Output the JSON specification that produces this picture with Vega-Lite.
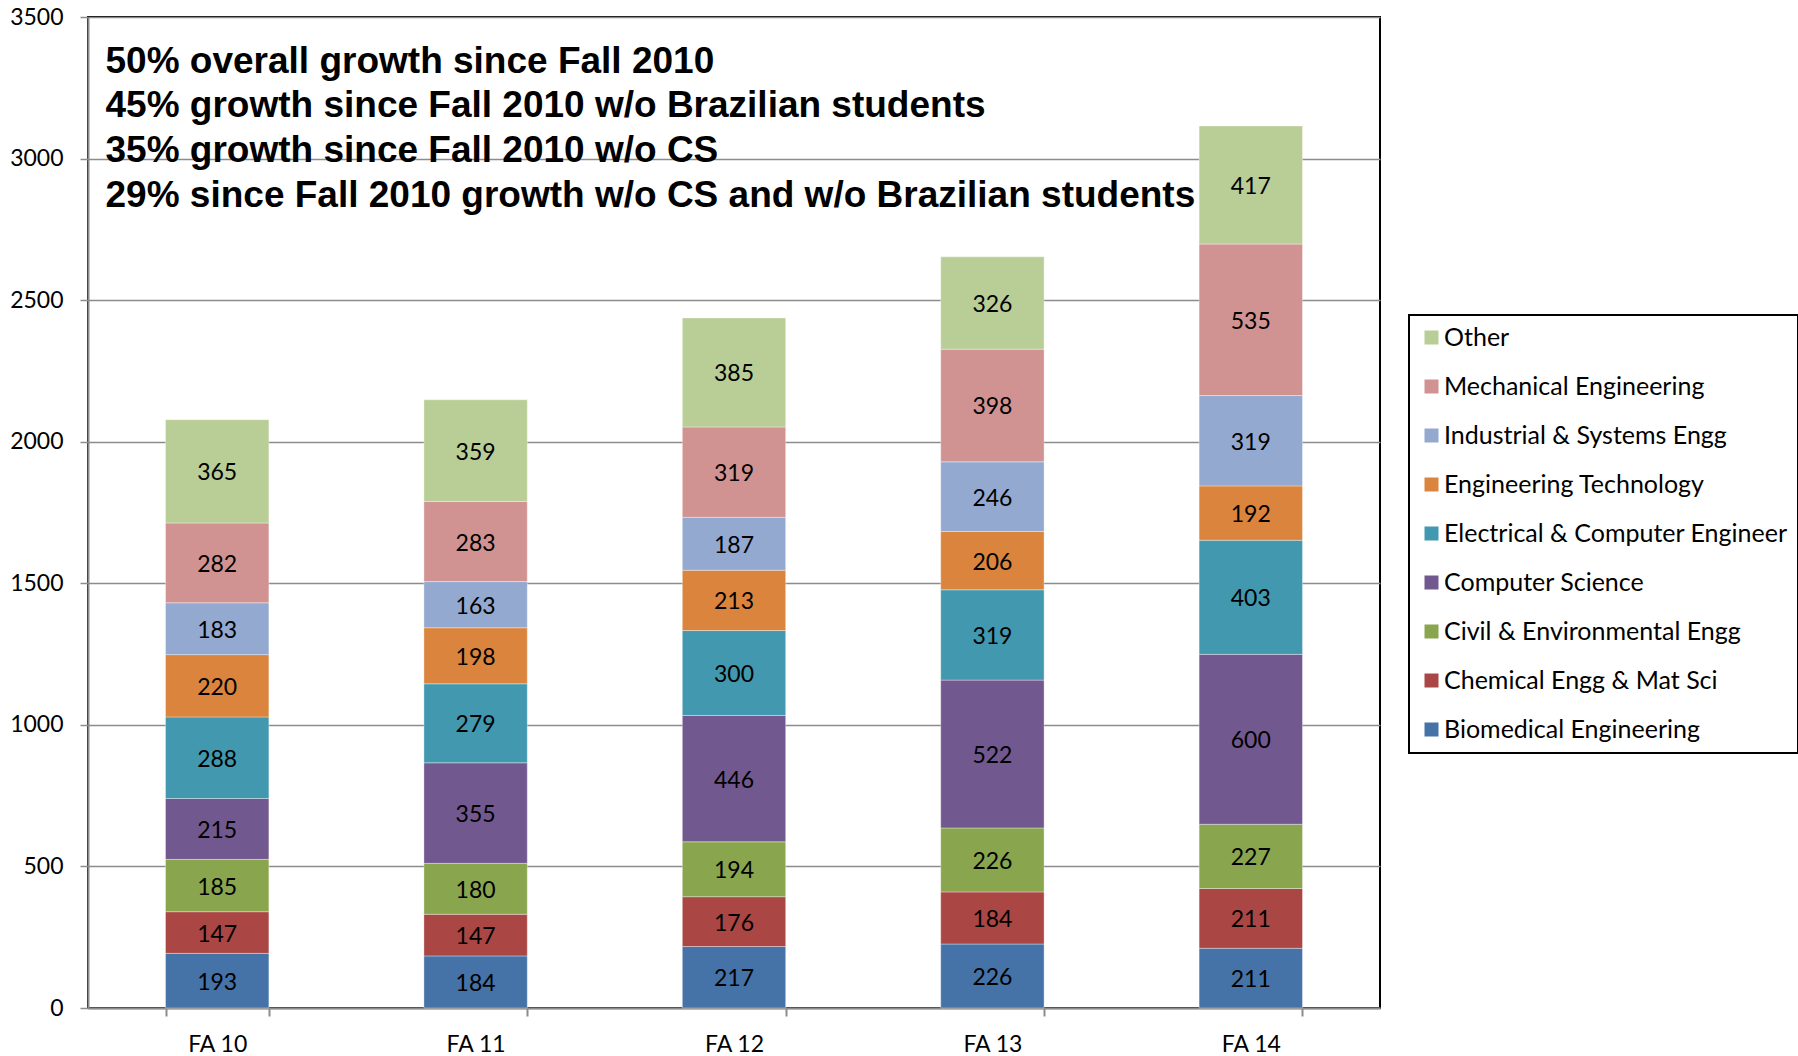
{
  "$schema": "https://vega.github.io/schema/vega-lite/v6.json",
  "autosize": {"type": "none"},
  "width": 1292,
  "height": 991,
  "padding": {"left": 88, "top": 17, "right": 418, "bottom": 48},
  "background": "#ffffff",
  "title": {
    "text": "Student Headcount – Total",
    "anchor": "start",
    "frame": "group",
    "orient": "top",
    "font": "Liberation Sans",
    "fontSize": 74,
    "fontWeight": "bold",
    "color": "#0f6b52",
    "baseline": "alphabetic",
    "offset": -17,
    "dx": -90
  },
  "config": {
    "view": {"stroke": "#000000", "strokeWidth": 2},
    "font": "Lato",
    "legend": {"strokeWidth": 2}
  },
  "datasets": {
    "counts": [
      {"term": "FA 10", "program": "Biomedical Engineering", "ord": 1, "value": 193},
      {"term": "FA 10", "program": "Chemical Engg & Mat Sci", "ord": 2, "value": 147},
      {"term": "FA 10", "program": "Civil & Environmental Engg", "ord": 3, "value": 185},
      {"term": "FA 10", "program": "Computer Science", "ord": 4, "value": 215},
      {"term": "FA 10", "program": "Electrical & Computer Engineer", "ord": 5, "value": 288},
      {"term": "FA 10", "program": "Engineering Technology", "ord": 6, "value": 220},
      {"term": "FA 10", "program": "Industrial & Systems Engg", "ord": 7, "value": 183},
      {"term": "FA 10", "program": "Mechanical Engineering", "ord": 8, "value": 282},
      {"term": "FA 10", "program": "Other", "ord": 9, "value": 365},
      {"term": "FA 11", "program": "Biomedical Engineering", "ord": 1, "value": 184},
      {"term": "FA 11", "program": "Chemical Engg & Mat Sci", "ord": 2, "value": 147},
      {"term": "FA 11", "program": "Civil & Environmental Engg", "ord": 3, "value": 180},
      {"term": "FA 11", "program": "Computer Science", "ord": 4, "value": 355},
      {"term": "FA 11", "program": "Electrical & Computer Engineer", "ord": 5, "value": 279},
      {"term": "FA 11", "program": "Engineering Technology", "ord": 6, "value": 198},
      {"term": "FA 11", "program": "Industrial & Systems Engg", "ord": 7, "value": 163},
      {"term": "FA 11", "program": "Mechanical Engineering", "ord": 8, "value": 283},
      {"term": "FA 11", "program": "Other", "ord": 9, "value": 359},
      {"term": "FA 12", "program": "Biomedical Engineering", "ord": 1, "value": 217},
      {"term": "FA 12", "program": "Chemical Engg & Mat Sci", "ord": 2, "value": 176},
      {"term": "FA 12", "program": "Civil & Environmental Engg", "ord": 3, "value": 194},
      {"term": "FA 12", "program": "Computer Science", "ord": 4, "value": 446},
      {"term": "FA 12", "program": "Electrical & Computer Engineer", "ord": 5, "value": 300},
      {"term": "FA 12", "program": "Engineering Technology", "ord": 6, "value": 213},
      {"term": "FA 12", "program": "Industrial & Systems Engg", "ord": 7, "value": 187},
      {"term": "FA 12", "program": "Mechanical Engineering", "ord": 8, "value": 319},
      {"term": "FA 12", "program": "Other", "ord": 9, "value": 385},
      {"term": "FA 13", "program": "Biomedical Engineering", "ord": 1, "value": 226},
      {"term": "FA 13", "program": "Chemical Engg & Mat Sci", "ord": 2, "value": 184},
      {"term": "FA 13", "program": "Civil & Environmental Engg", "ord": 3, "value": 226},
      {"term": "FA 13", "program": "Computer Science", "ord": 4, "value": 522},
      {"term": "FA 13", "program": "Electrical & Computer Engineer", "ord": 5, "value": 319},
      {"term": "FA 13", "program": "Engineering Technology", "ord": 6, "value": 206},
      {"term": "FA 13", "program": "Industrial & Systems Engg", "ord": 7, "value": 246},
      {"term": "FA 13", "program": "Mechanical Engineering", "ord": 8, "value": 398},
      {"term": "FA 13", "program": "Other", "ord": 9, "value": 326},
      {"term": "FA 14", "program": "Biomedical Engineering", "ord": 1, "value": 211},
      {"term": "FA 14", "program": "Chemical Engg & Mat Sci", "ord": 2, "value": 211},
      {"term": "FA 14", "program": "Civil & Environmental Engg", "ord": 3, "value": 227},
      {"term": "FA 14", "program": "Computer Science", "ord": 4, "value": 600},
      {"term": "FA 14", "program": "Electrical & Computer Engineer", "ord": 5, "value": 403},
      {"term": "FA 14", "program": "Engineering Technology", "ord": 6, "value": 192},
      {"term": "FA 14", "program": "Industrial & Systems Engg", "ord": 7, "value": 319},
      {"term": "FA 14", "program": "Mechanical Engineering", "ord": 8, "value": 535},
      {"term": "FA 14", "program": "Other", "ord": 9, "value": 417}
    ],
    "notes": [
      {"line": "50% overall growth since Fall 2010", "pos": 3340},
      {"line": "45% growth since Fall 2010 w/o Brazilian students", "pos": 3185},
      {"line": "35% growth since Fall 2010 w/o CS", "pos": 3026},
      {"line": "29% since Fall 2010 growth w/o CS and w/o Brazilian students", "pos": 2867}
    ]
  },
  "layer": [
    {
      "data": {"name": "counts"},
      "mark": {"type": "bar", "stroke": "#ffffff", "strokeWidth": 1, "strokeOpacity": 0.35},
      "encoding": {
        "x": {
          "field": "term", "type": "nominal",
          "scale": {"paddingInner": 0.6, "paddingOuter": 0.3},
          "axis": {
            "title": null, "labelAngle": 0, "labelFont": "Lato", "labelFontSize": 23,
            "labelColor": "#000000", "domainColor": "#8c8c8c", "domainWidth": 2,
            "tickColor": "#8c8c8c", "tickWidth": 2, "tickSize": 8, "tickBand": "extent",
            "labelPadding": 17
          }
        },
        "y": {
          "field": "value", "type": "quantitative", "stack": "zero",
          "scale": {"domain": [0, 3500], "nice": false},
          "axis": {
            "title": null, "values": [0, 500, 1000, 1500, 2000, 2500, 3000, 3500],
            "format": "d",
            "labelFont": "Lato", "labelFontSize": 23, "labelColor": "#000000",
            "domainColor": "#8c8c8c", "domainWidth": 2, "tickColor": "#8c8c8c",
            "tickWidth": 1.5, "tickSize": 8, "labelPadding": 17,
            "grid": true, "gridColor": "#8c8c8c", "gridWidth": 1.5
          }
        },
        "color": {
          "field": "program", "type": "nominal",
          "scale": {
            "domain": ["Other", "Mechanical Engineering", "Industrial & Systems Engg", "Engineering Technology", "Electrical & Computer Engineer", "Computer Science", "Civil & Environmental Engg", "Chemical Engg & Mat Sci", "Biomedical Engineering"],
            "range": ["#b9cd96", "#d19392", "#93a9cf", "#db843d", "#4198af", "#71588f", "#89a54e", "#aa4643", "#4572a7"]
          },
          "legend": {
            "title": null, "orient": "none", "legendX": 1321, "legendY": 298,
            "symbolType": "square", "symbolSize": 196, "symbolStrokeWidth": 0,
            "labelFont": "Lato", "labelFontSize": 25, "labelColor": "#000000",
            "labelLimit": 400, "rowPadding": 23, "padding": 10,
            "strokeColor": "#000000", "fillColor": "#ffffff",
            "labelOffset": 0
          }
        },
        "order": {"field": "ord", "type": "quantitative", "sort": "ascending"}
      }
    },
    {
      "data": {"name": "counts"},
      "transform": [
        {"stack": "value", "groupby": ["term"], "sort": [{"field": "ord", "order": "ascending"}], "as": ["lo", "hi"]},
        {"calculate": "(datum.lo + datum.hi) / 2", "as": "mid"}
      ],
      "mark": {"type": "text", "font": "Lato", "fontSize": 23, "color": "#000000", "baseline": "middle", "dy": 2},
      "encoding": {
        "x": {"field": "term", "type": "nominal"},
        "y": {"field": "mid", "type": "quantitative"},
        "text": {"field": "value", "type": "quantitative"}
      }
    },
    {
      "data": {"name": "notes"},
      "mark": {"type": "text", "font": "Liberation Sans", "fontWeight": "bold", "fontSize": 37, "align": "left", "baseline": "middle", "color": "#000000", "dx": -60},
      "encoding": {
        "x": {"datum": "FA 10", "type": "nominal", "bandPosition": 0},
        "y": {"field": "pos", "type": "quantitative"},
        "text": {"field": "line"}
      }
    }
  ]
}
